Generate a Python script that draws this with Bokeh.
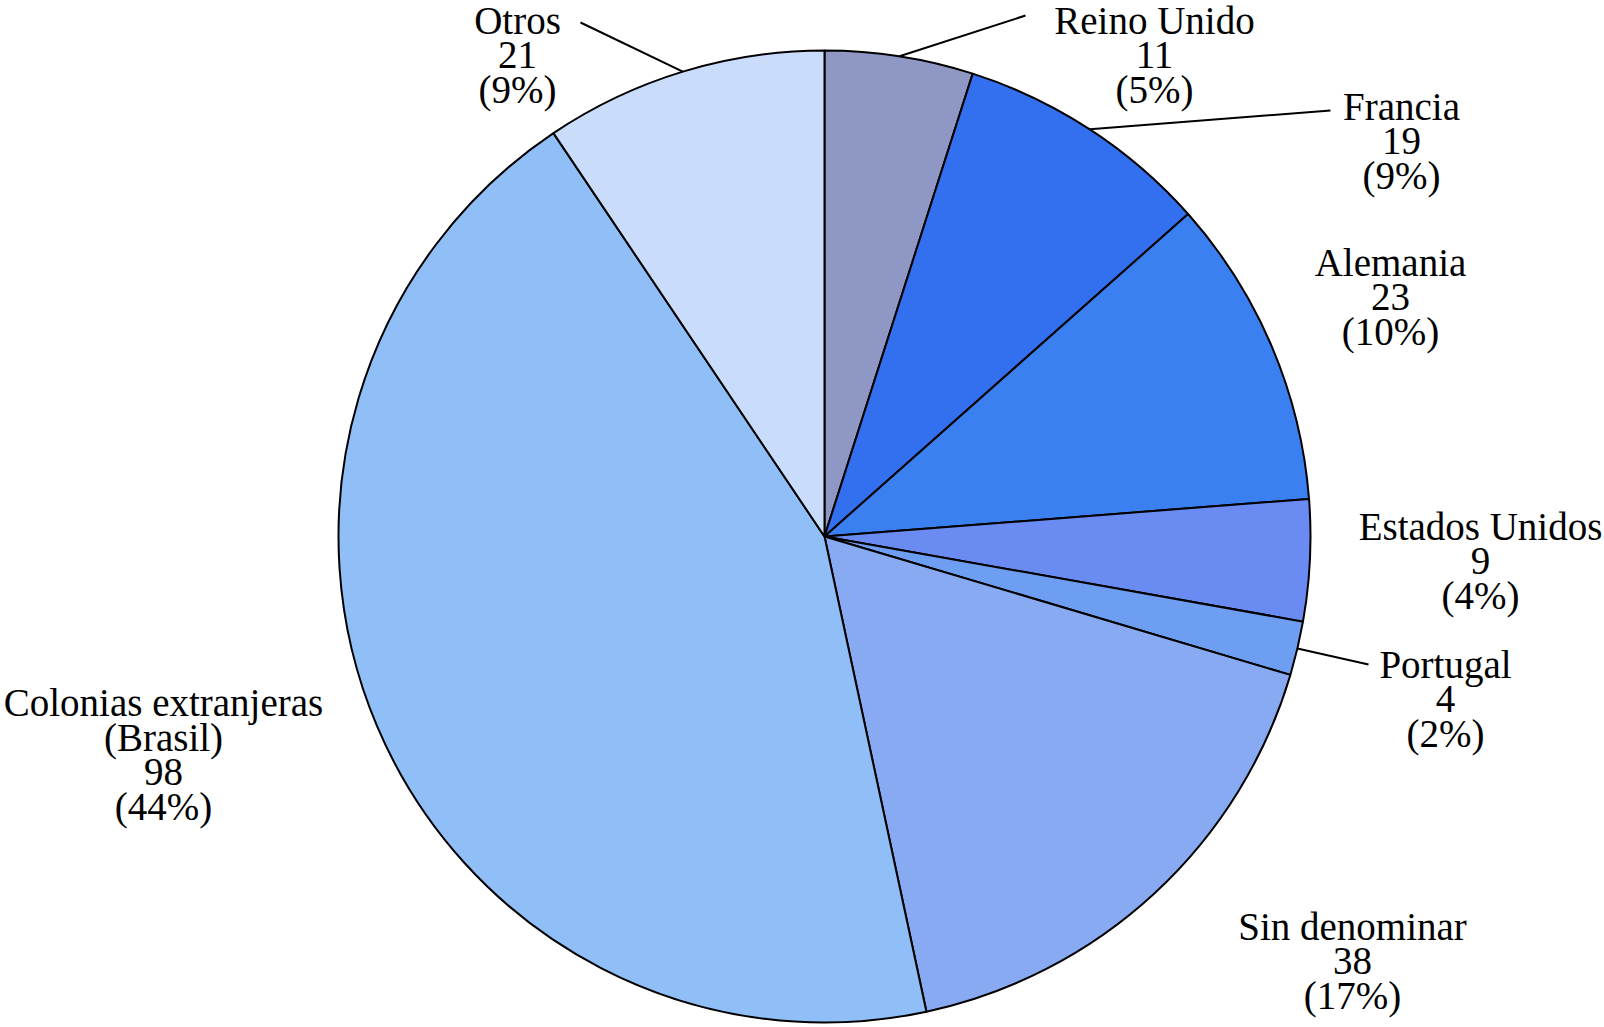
import math
from bokeh.plotting import figure
from bokeh.models import Range1d, ColumnDataSource
from bokeh.core.properties import value
from bokeh.embed import file_html
from bokeh.resources import INLINE

# ---- data (clockwise from 12 o'clock) ----
categories = ["Reino Unido", "Francia", "Alemania", "Estados Unidos", "Portugal",
              "Sin denominar", "Colonias extranjeras\n(Brasil)", "Otros"]
counts = [11, 19, 23, 9, 4, 38, 98, 21]
percent_labels = ["5%", "9%", "10%", "4%", "2%", "17%", "44%", "9%"]
colors = ["#8f98c4", "#3270f0", "#3b80f0", "#6a8cf2", "#6e9ef2",
          "#88aaf2", "#90bef6", "#cadcfb"]

# ---- layout (screen pixels; data y = H - screen y) ----
H = 1027
FW, FH = 1604, 1027
CX, CY, R = 824, 536, 486
# label anchor (x centre, vertical centre of first line) and leader-line outer end
label_pos = [(1154, 20), (1401, 106), (1390, 262), (1480, 526), (1445, 664),
             (1352, 926), (163, 702), (517, 20)]
leader_end = [(1025, 15), (1330, 110), None, None, (1368, 664), None, None, (580, 22)]
LINE = 34.5

p = figure(width=FW, height=FH, output_backend="svg", toolbar_location=None,
           x_range=Range1d(0, FW), y_range=Range1d(H - FH, H),
           min_border=0)
p.axis.visible = False
p.grid.visible = False
p.outline_line_color = None
p.background_fill_color = "white"
p.border_fill_color = "white"

total = sum(counts)
starts, ends, mids = [], [], []
cum = 0
for c in counts:
    a0 = math.pi / 2 - 2 * math.pi * cum / total
    cum += c
    a1 = math.pi / 2 - 2 * math.pi * cum / total
    starts.append(a0)
    ends.append(a1)
    mids.append((a0 + a1) / 2)

src = ColumnDataSource(dict(start=starts, end=ends, color=colors))
p.wedge(x=CX, y=H - CY, radius=R, start_angle="start", end_angle="end",
        direction="clock", fill_color="color", line_color="black",
        line_width=2, source=src)

# leader lines from slice arc midpoint to label
for i, le in enumerate(leader_end):
    if le is None:
        continue
    x0 = CX + R * math.cos(mids[i])
    y0 = (H - CY) + R * math.sin(mids[i])
    p.line([x0, le[0]], [y0, H - le[1]], line_color="black", line_width=2)

# labels
tx, ty, tt = [], [], []
for i, cat in enumerate(categories):
    lines = cat.split("\n") + [str(counts[i]), "(" + percent_labels[i] + ")"]
    x, y = label_pos[i]
    for k, ln in enumerate(lines):
        tx.append(x)
        ty.append(H - (y + k * LINE))
        tt.append(ln)
p.text(x=tx, y=ty, text=tt, text_align="center", text_baseline="middle",
       text_font=value("Liberation Serif"), text_font_size="39px", text_color="black")

open("out.html", "w").write(file_html(p, INLINE))
